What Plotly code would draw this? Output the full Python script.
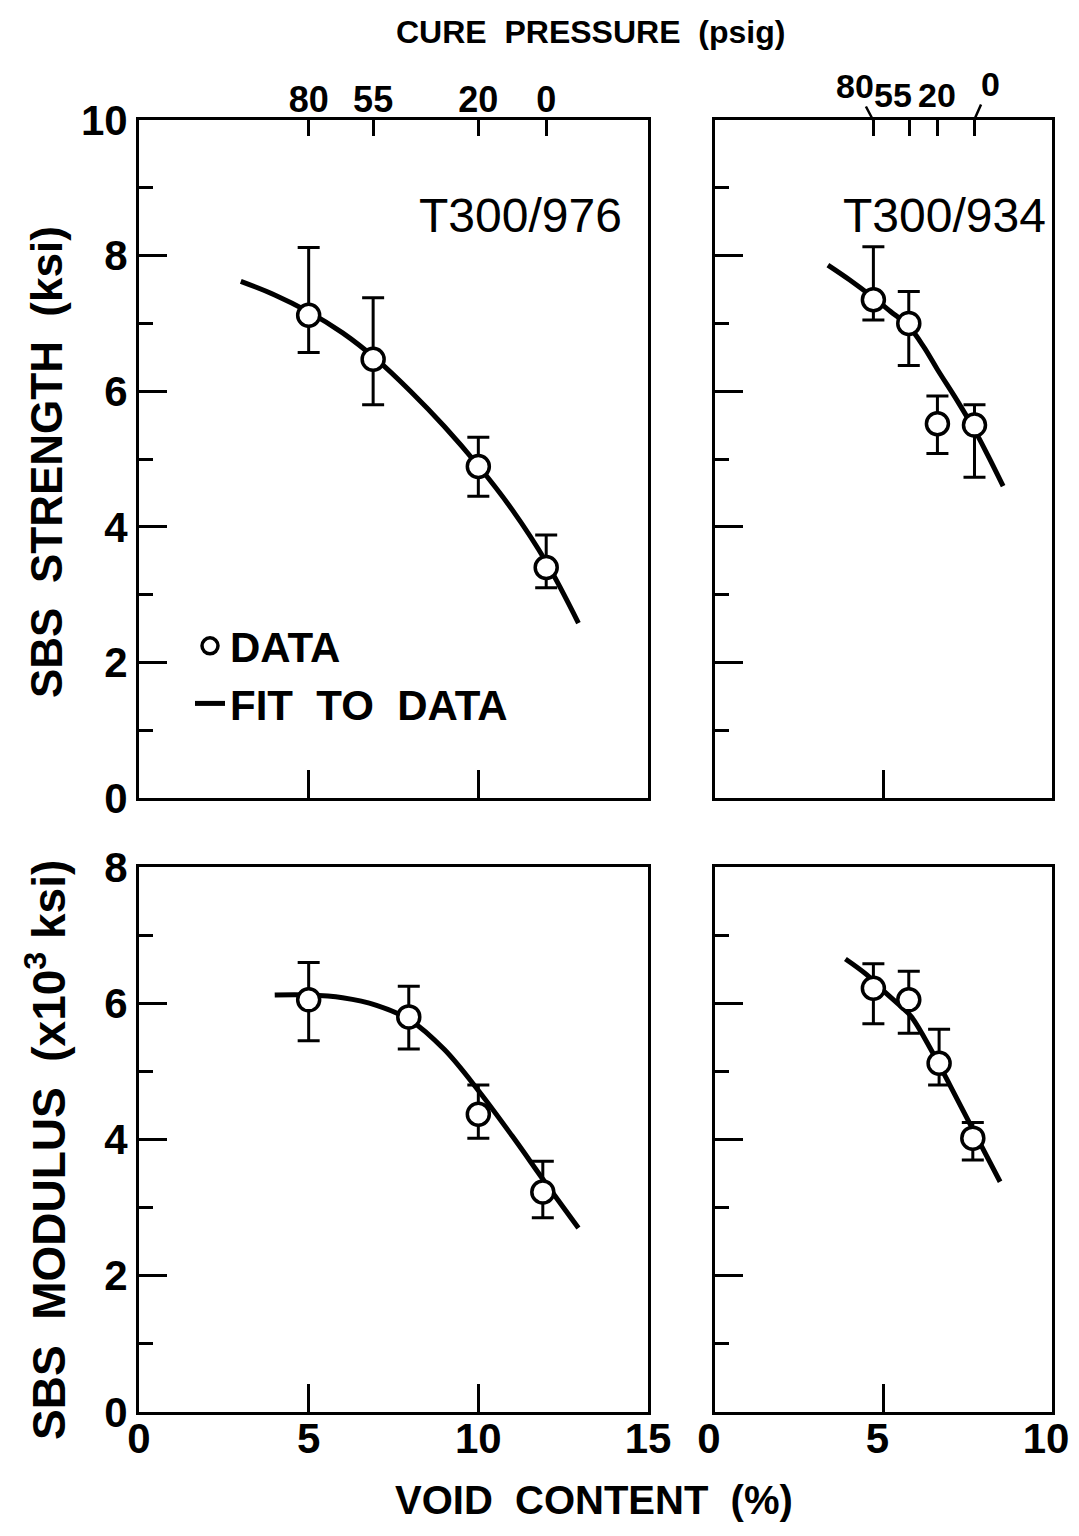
import plotly.graph_objects as go

# ---------------- data ----------------
# Top-left: SBS strength (ksi), T300/976
tl_void = [5.0, 6.9, 10.0, 12.0]
tl_val = [7.12, 6.47, 4.89, 3.40]
tl_hi = [8.12, 7.38, 5.32, 3.88]
tl_lo = [6.57, 5.80, 4.45, 3.10]
tl_fit_x = [3.0, 4.0, 5.0, 6.0, 7.0, 8.0, 9.0, 10.0, 11.0, 12.0, 12.95]
tl_fit_y = [7.62, 7.42, 7.17, 6.86, 6.47, 6.00, 5.48, 4.90, 4.25, 3.48, 2.58]

# Top-right: SBS strength (ksi), T300/934
tr_void = [4.7, 5.75, 6.6, 7.7]
tr_val = [7.35, 7.00, 5.52, 5.50]
tr_hi = [8.13, 7.47, 5.93, 5.80]
tr_lo = [7.05, 6.38, 5.08, 4.73]
tr_fit_x = [3.35, 4.0, 4.7, 5.2, 5.76, 6.2, 6.6, 7.2, 7.7, 8.1, 8.55]
tr_fit_y = [7.86, 7.64, 7.38, 7.18, 6.95, 6.65, 6.32, 5.85, 5.43, 5.05, 4.60]

# Bottom-left: SBS modulus (x10^3 ksi), T300/976
bl_void = [5.0, 7.95, 10.0, 11.9]
bl_val = [6.05, 5.80, 4.37, 3.23]
bl_hi = [6.60, 6.25, 4.80, 3.68]
bl_lo = [5.45, 5.33, 4.02, 2.85]
bl_fit_x = [4.0, 5.0, 6.0, 7.0, 8.0, 9.0, 10.0, 11.0, 12.0, 12.95]
bl_fit_y = [6.12, 6.12, 6.08, 5.97, 5.75, 5.32, 4.72, 4.05, 3.35, 2.70]

# Bottom-right: SBS modulus (x10^3 ksi), T300/934
br_void = [4.7, 5.75, 6.65, 7.65]
br_val = [6.22, 6.05, 5.12, 4.02]
br_hi = [6.58, 6.47, 5.62, 4.25]
br_lo = [5.70, 5.56, 4.80, 3.70]
br_fit_x = [3.87, 4.5, 5.05, 5.5, 5.83, 6.42, 7.0, 7.7, 8.46]
br_fit_y = [6.65, 6.42, 6.16, 5.96, 5.80, 5.31, 4.77, 4.10, 3.38]

# Cure pressure (psig) top-axis ticks
press_labels = ["80", "55", "20", "0"]
tl_press_x = [5.0, 6.9, 10.0, 12.0]
tr_press_x = [4.69, 5.76, 6.59, 7.69]

# ---------------- figure ----------------
OFF = 8  # page body margin
W, H = 1079 - OFF, 1536 - 2 * OFF
FONT = "Liberation Sans"
BLACK = "#000000"


def px(p):
    return (p - OFF) / W


def py(p):
    return 1 - (p - OFF) / H


fig = go.Figure()

panels = [
    ("x", "y", tl_void, tl_val, tl_hi, tl_lo, tl_fit_x, tl_fit_y, True),
    ("x2", "y2", tr_void, tr_val, tr_hi, tr_lo, tr_fit_x, tr_fit_y, False),
    ("x3", "y3", bl_void, bl_val, bl_hi, bl_lo, bl_fit_x, bl_fit_y, False),
    ("x4", "y4", br_void, br_val, br_hi, br_lo, br_fit_x, br_fit_y, False),
]

for xa, ya, vx, vy, hi, lo, fx, fy, legend in panels:
    fig.add_trace(go.Scatter(
        x=fx, y=fy, xaxis=xa, yaxis=ya, mode="lines",
        line=dict(color=BLACK, width=5, shape="spline", smoothing=1.0),
        name="FIT  TO  DATA", showlegend=legend, legendrank=2,
    ))
    fig.add_trace(go.Scatter(
        x=vx, y=vy, xaxis=xa, yaxis=ya, mode="markers",
        marker=dict(symbol="circle", size=22, color="white",
                    line=dict(color=BLACK, width=3.5)),
        error_y=dict(type="data", symmetric=False,
                     array=[h - v for h, v in zip(hi, vy)],
                     arrayminus=[v - l for v, l in zip(vy, lo)],
                     color=BLACK, thickness=3, width=11),
        name="DATA", showlegend=legend, legendrank=1,
    ))

# invisible carriers so the cure-pressure (top) axes get drawn
fig.add_trace(go.Scatter(x=tl_press_x, y=tl_val, xaxis="x5", yaxis="y",
                         mode="markers", marker=dict(opacity=0),
                         showlegend=False, hoverinfo="skip"))
fig.add_trace(go.Scatter(x=tr_press_x, y=tr_val, xaxis="x6", yaxis="y2",
                         mode="markers", marker=dict(opacity=0),
                         showlegend=False, hoverinfo="skip"))

# domains (paper coords)
xl = [px(139), px(648)]
xr = [px(715), px(1052)]
yt = [py(798), py(120)]
yb = [py(1412), py(867)]

tickfont = dict(family=FONT, size=42, color=BLACK, weight="bold")
common_axis = dict(showline=True, linecolor=BLACK, linewidth=3, mirror=True,
                   showgrid=False, zeroline=False, ticks="inside",
                   tickcolor=BLACK, tickwidth=3, tickfont=tickfont,
                   automargin=False, ticklabeloverflow="allow")


def yax(domain, rng, labels, anchor):
    return dict(common_axis, domain=domain, range=rng, anchor=anchor,
                tickmode="linear", tick0=0, dtick=2, ticklen=28,
                showticklabels=labels,
                minor=dict(ticks="inside", ticklen=14, tickwidth=3,
                           tickcolor=BLACK, dtick=1, tick0=0, showgrid=False))


def xax(domain, rng, tv, labels, anchor, shift=0):
    return dict(common_axis, domain=domain, range=rng, anchor=anchor,
                tickmode="array", tickvals=tv, ticktext=[str(t) for t in tv],
                ticklen=28, showticklabels=labels, ticklabelstandoff=-12,
                ticklabelshift=shift)


press_font = dict(family=FONT, size=36, color=BLACK, weight="bold")
press_font_r = dict(family=FONT, size=34, color=BLACK, weight="bold")

fig.update_layout(
    width=W, height=H,
    margin=dict(l=0, r=0, t=0, b=0, autoexpand=False),
    paper_bgcolor="white", plot_bgcolor="white",
    font=dict(family=FONT, color=BLACK),
    xaxis=xax(xl, [0, 15], [0, 5, 10, 15], False, "y"),
    yaxis=yax(yt, [0, 10], True, "x"),
    xaxis2=xax(xr, [0, 10], [0, 5, 10], False, "y2"),
    yaxis2=yax(yt, [0, 10], False, "x2"),
    xaxis3=xax(xl, [0, 15], [0, 5, 10, 15], True, "y3"),
    yaxis3=yax(yb, [0, 8], True, "x3"),
    xaxis4=xax(xr, [0, 10], [0, 5, 10], True, "y4", shift=-6),
    yaxis4=yax(yb, [0, 8], False, "x4"),
    xaxis5=dict(overlaying="x", anchor="y", side="top", range=[0, 15],
                showgrid=False, zeroline=False, showline=False, automargin=False,
                tickmode="array", tickvals=tl_press_x, ticktext=press_labels,
                ticks="inside", ticklen=16, tickwidth=3, tickcolor=BLACK,
                tickfont=press_font),
    xaxis6=dict(overlaying="x2", anchor="y2", side="top", range=[0, 10],
                showgrid=False, zeroline=False, showline=False, automargin=False,
                tickmode="array", tickvals=tr_press_x, showticklabels=False,
                ticks="inside", ticklen=16, tickwidth=3, tickcolor=BLACK),
    legend=dict(x=px(190), y=py(612), xanchor="left", yanchor="top",
                bgcolor="rgba(0,0,0,0)", borderwidth=0,
                font=dict(family=FONT, size=42, color=BLACK, weight="bold"),
                itemwidth=30, tracegroupgap=0),
)

ann = []
# top-right cure pressure labels with leader lines
tr_offsets = [(-18, -34, True), (-16, 0, False), (0, 0, False), (16, -36, True)]
for xv, lab, (dx, dy, arrow) in zip(tr_press_x, press_labels, tr_offsets):
    if arrow:
        ann.append(dict(x=xv, y=1, xref="x2", yref="y2 domain", text=lab,
                        showarrow=True, arrowhead=0, arrowwidth=2.5,
                        arrowcolor=BLACK, ax=dx, ay=dy, standoff=0,
                        font=press_font_r))
    else:
        ann.append(dict(x=xv, y=1, xref="x2", yref="y2 domain", text=lab,
                        showarrow=False, xshift=dx, yshift=4, yanchor="bottom",
                        font=press_font_r))

ann += [
    dict(x=px(590), y=py(32), xref="paper", yref="paper",
         xanchor="center", yanchor="middle",
         text="CURE  PRESSURE  (psig)", showarrow=False,
         font=dict(family=FONT, size=32, color=BLACK, weight="bold")),
    dict(x=px(594), y=py(1500), xref="paper", yref="paper",
         xanchor="center", yanchor="middle",
         text="VOID  CONTENT  (%)", showarrow=False,
         font=dict(family=FONT, size=40, color=BLACK, weight="bold")),
    dict(x=px(46), y=py(462), xref="paper", yref="paper",
         xanchor="center", yanchor="middle",
         text="SBS  STRENGTH  (ksi)", showarrow=False, textangle=-90,
         font=dict(family=FONT, size=44, color=BLACK, weight="bold")),
    dict(x=px(46), y=py(1150), xref="paper", yref="paper",
         xanchor="center", yanchor="middle",
         text="SBS  MODULUS  (x10<sup>3</sup> ksi)", showarrow=False, textangle=-90,
         font=dict(family=FONT, size=46, color=BLACK, weight="bold")),
    dict(x=px(520), y=py(215), xref="paper", yref="paper",
         xanchor="center", yanchor="middle",
         text="T300/976", showarrow=False,
         font=dict(family=FONT, size=48, color=BLACK)),
    dict(x=px(944), y=py(215), xref="paper", yref="paper",
         xanchor="center", yanchor="middle",
         text="T300/934", showarrow=False,
         font=dict(family=FONT, size=48, color=BLACK)),
]
fig.update_layout(annotations=ann)

fig.write_html("out.html")
